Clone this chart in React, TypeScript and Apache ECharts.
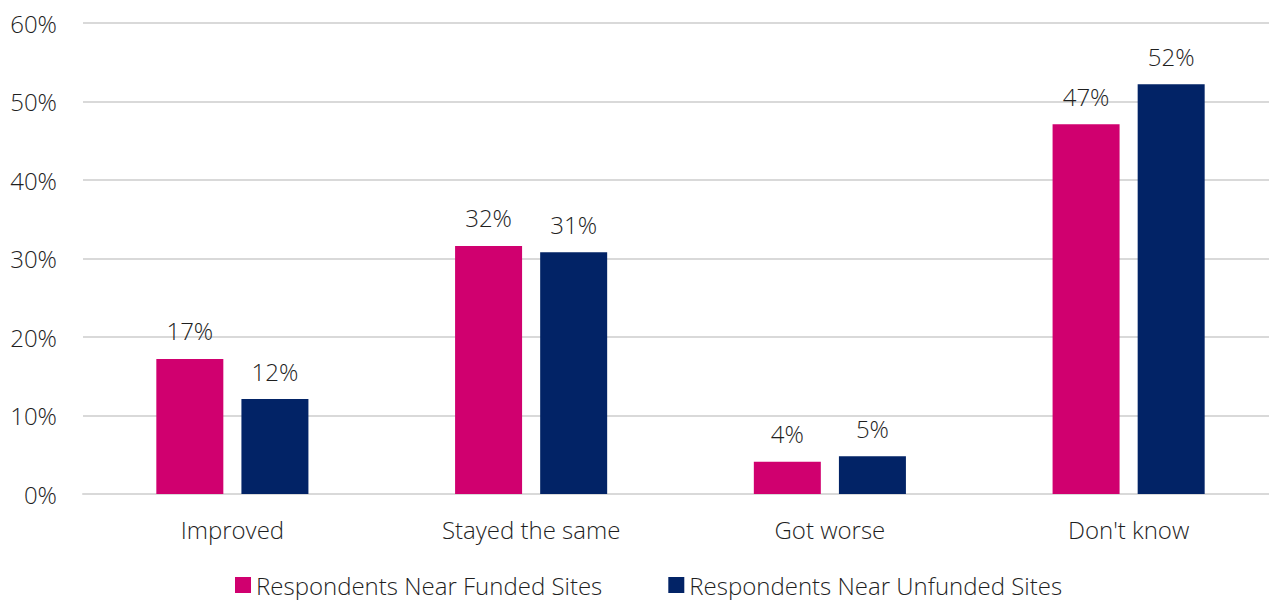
import React, { useEffect, useRef } from "react";
import * as echarts from "echarts";

const categories = ["Improved", "Stayed the same", "Got worse", "Don't know"];
const funded = [17.2, 31.6, 4.1, 47.1];
const unfunded = [12.1, 30.8, 4.8, 52.2];
const seriesNames = ["Respondents Near Funded Sites", "Respondents Near Unfunded Sites"];
const yTicks = [0, 10, 20, 30, 40, 50, 60];

const FONT = "'Open Sans', 'Noto Sans', sans-serif";
const TEXT = "#1f1f1f";
const W = 300;
const FS = 24;

export default function App() {
  const ref = useRef<HTMLDivElement>(null);
  useEffect(() => {
    if (!ref.current) return;
    const chart = echarts.init(ref.current, null, { renderer: "svg" });
    const label = {
      show: true,
      position: "top",
      distance: 16,
      color: TEXT,
      fontFamily: FONT,
      fontWeight: W,
      fontSize: FS,
      formatter: (p: any) => Math.round(p.value) + "%",
    };
    chart.setOption({
      animation: false,
      textStyle: { fontFamily: FONT },
      grid: {
        left: 83,
        right: -9,
        top: 23,
        bottom: 106,
        containLabel: false,
        outerBoundsMode: "none",
      },
      legend: {
        top: 568,
        left: 230,
        itemWidth: 16,
        itemHeight: 16,
        itemGap: 66,
        icon: "rect",
        textStyle: { color: TEXT, fontFamily: FONT, fontWeight: W, fontSize: FS },
        data: seriesNames,
      },
      xAxis: {
        type: "category",
        data: categories,
        axisLine: { show: true, lineStyle: { color: "#d9d9d9", width: 2 } },
        axisTick: { show: false },
        axisLabel: {
          color: TEXT,
          fontFamily: FONT,
          fontWeight: W,
          fontSize: FS,
          margin: 23,
        },
      },
      yAxis: {
        type: "value",
        min: yTicks[0],
        max: yTicks[yTicks.length - 1],
        interval: 10,
        axisLine: { show: false },
        axisTick: { show: false },
        splitLine: { lineStyle: { color: "#d9d9d9", width: 2 } },
        axisLabel: {
          color: TEXT,
          fontFamily: FONT,
          fontWeight: W,
          fontSize: FS,
          margin: 26,
          formatter: (v: number) => v + "%",
        },
      },
      series: [
        {
          name: seriesNames[0],
          type: "bar",
          data: funded,
          barWidth: 67,
          barGap: "27%",
          itemStyle: { color: "#D0006F" },
          label,
        },
        {
          name: seriesNames[1],
          type: "bar",
          data: unfunded,
          barWidth: 67,
          barGap: "27%",
          itemStyle: { color: "#022366" },
          label,
        },
      ],
    });
    return () => chart.dispose();
  }, []);
  return (
    <div
      ref={ref}
      style={{ position: "absolute", left: 0, top: 0, width: 1269, height: 600 }}
    />
  );
}
